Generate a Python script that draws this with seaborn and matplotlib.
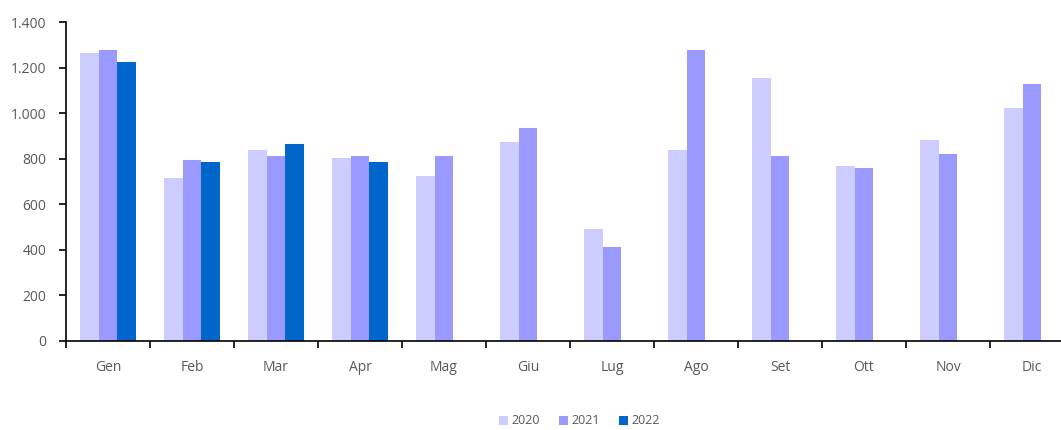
import pandas as pd
import numpy as np
import matplotlib
matplotlib.use('Agg')
import matplotlib.pyplot as plt
import seaborn as sns
from matplotlib.ticker import FuncFormatter, FixedLocator

# Dati
mesi = ['Gen', 'Feb', 'Mar', 'Apr', 'Mag', 'Giu', 'Lug', 'Ago', 'Set', 'Ott', 'Nov', 'Dic']
v2020 = [1266, 716, 839, 804, 726, 874, 491, 839, 1154, 769, 883, 1024]
v2021 = [1275, 795, 813, 813, 813, 936, 412, 1275, 813, 760, 822, 1128]
v2022 = [1224, 786, 865, 786, np.nan, np.nan, np.nan, np.nan, np.nan, np.nan, np.nan, np.nan]
anni = ['2020', '2021', '2022']
colori = ['#CCCCFF', '#9999FF', '#0066CC']

df = pd.DataFrame({'Mese': mesi * 3,
                   'Anno': [a for a in anni for _ in mesi],
                   'Valore': v2020 + v2021 + v2022})

sns.set_style('white')
plt.rcParams['font.family'] = ['Open Sans', 'DejaVu Sans']
testo = '#595959'

fig = plt.figure(figsize=(10.61, 4.30), dpi=100)
ax = fig.add_axes([66 / 1061, 1 - 341 / 430, 1 - 66 / 1061, (341 - 22) / 430])

sns.barplot(data=df, x='Mese', y='Valore', hue='Anno', hue_order=anni,
            palette=colori, width=0.67, linewidth=0, saturation=1, ax=ax)

ax.set_ylim(0, 1400)
ax.set_xlim(-0.5, -0.5 + (1061 - 66) / 84)
ax.set_yticks(range(0, 1401, 200))
ax.yaxis.set_major_formatter(FuncFormatter(lambda v, p: f'{int(v):,}'.replace(',', '.')))
ax.set_xlabel('')
ax.set_ylabel('')

# tacche tra le categorie
ax.xaxis.set_minor_locator(FixedLocator(np.arange(-0.5, 12, 1)))
ax.tick_params(axis='x', which='major', length=0, pad=14, labelsize=10, labelcolor=testo)
ax.tick_params(axis='x', which='minor', length=5, width=1.2, direction='out', color='black', bottom=True)
ax.tick_params(axis='y', length=5, width=1.2, direction='out', color='black', left=True,
               labelsize=10, labelcolor=testo, pad=9)

for s in ['top', 'right']:
    ax.spines[s].set_visible(False)
for s in ['left', 'bottom']:
    ax.spines[s].set_color('black')
    ax.spines[s].set_linewidth(1.2)

handles, labels = ax.get_legend_handles_labels()
ax.legend_.remove()
fig.legend(handles, labels, loc='center', bbox_to_anchor=(0.546, 9 / 430), ncol=3,
           frameon=False, fontsize=9, handlelength=0.75, handleheight=0.75,
           handletextpad=0.25, columnspacing=1.5, labelcolor=testo)

fig.savefig('out.png', dpi=100)
